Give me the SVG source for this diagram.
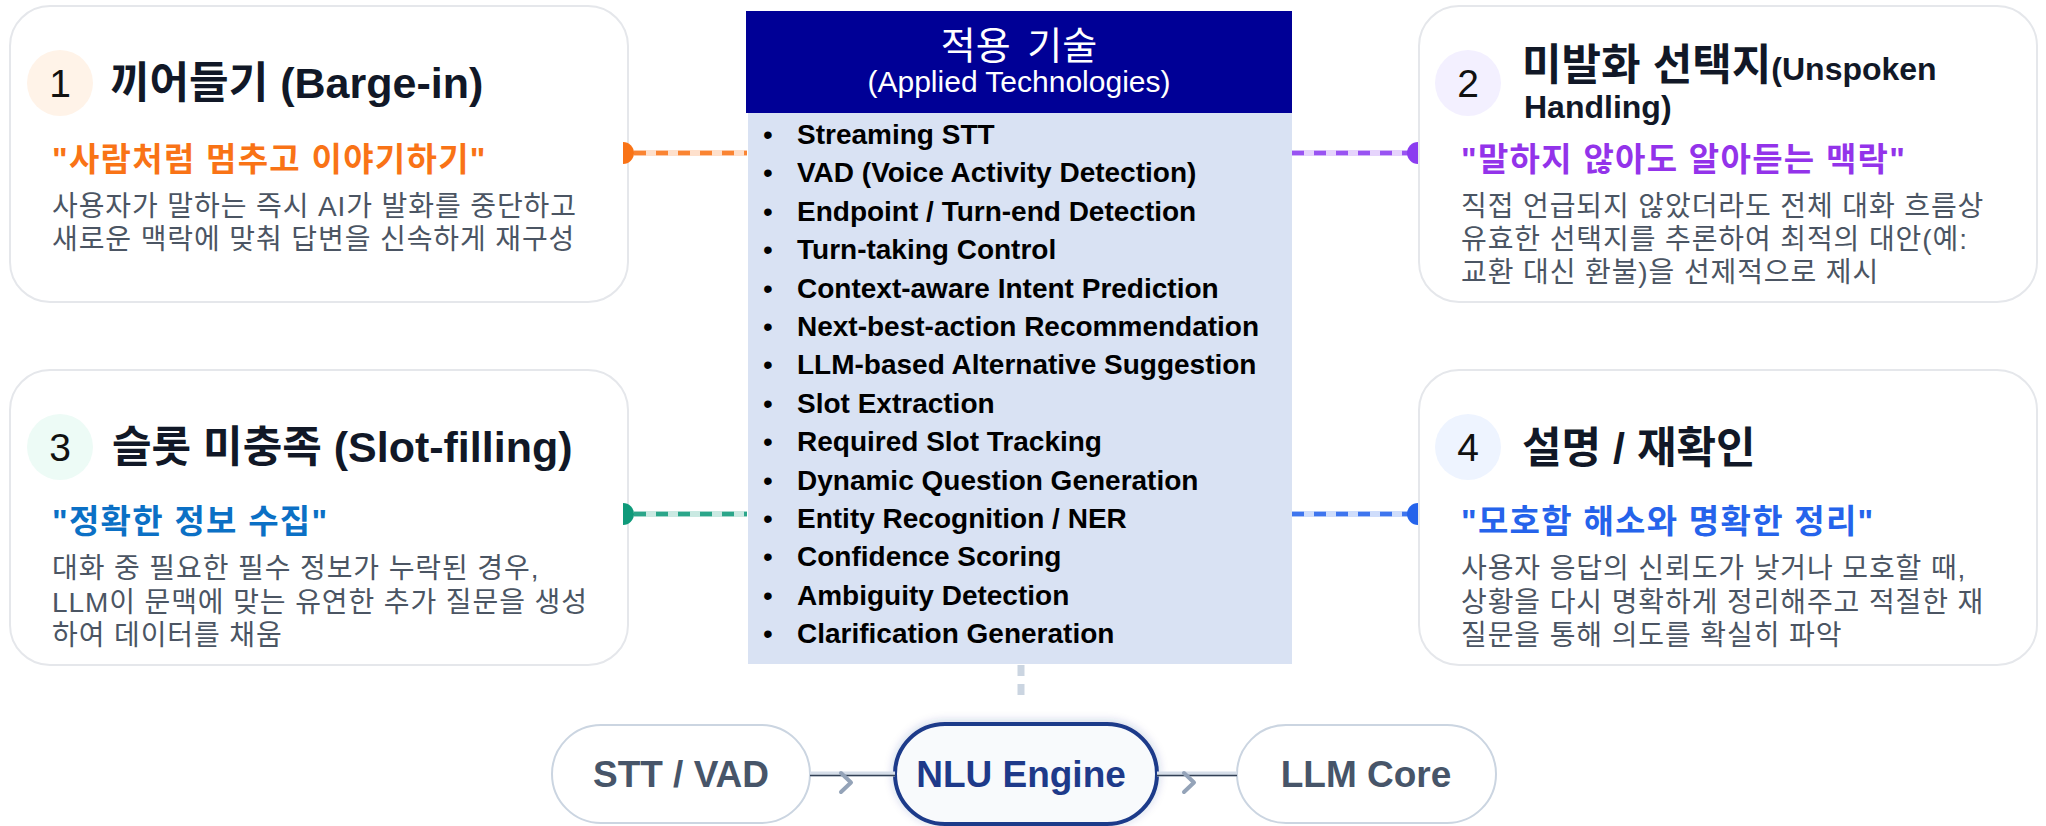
<svg xmlns="http://www.w3.org/2000/svg" width="2046" height="826" viewBox="0 0 2046 826">
<defs>
<style>
text{font-family:"Liberation Sans","Noto Sans CJK KR",sans-serif}
.card{fill:#ffffff;stroke:#E5E7EB;stroke-width:2}
.num{font-size:39px;fill:#111111;text-anchor:middle}
.title{font-size:43px;font-weight:700;fill:#111827}
.quote{font-size:33px;font-weight:700;letter-spacing:1.3px}
.desc{font-size:28px;fill:#4B5563;letter-spacing:0.9px}
.hdr{fill:#ffffff;text-anchor:middle}
.tech{font-size:28px;font-weight:700;fill:#000000}
.bul{font-size:28px;fill:#000000}
.pill{fill:#ffffff;stroke:#CBD5E1;stroke-width:2}
.ptext{font-size:37px;font-weight:700;fill:#475569;text-anchor:middle}
.base{stroke-width:6;opacity:0.22;fill:none}
.dash{stroke-width:4.5;stroke-dasharray:12 10;opacity:0.85;fill:none}
.band{stroke:#D6DEE9;stroke-width:5;fill:none}
.thin{stroke:#334155;stroke-width:1.4;fill:none}
.chev{stroke:#94A3B8;stroke-width:4;fill:none;stroke-linecap:round;stroke-linejoin:round}
</style>
<filter id="glow" x="-20%" y="-40%" width="140%" height="180%">
<feDropShadow dx="0" dy="-1" stdDeviation="5" flood-color="#1E3A8A" flood-opacity="0.22"/>
</filter>
</defs>

<g id="card1">
<rect class="card" x="10" y="6" width="618" height="296" rx="40"/>
<circle cx="60" cy="83" r="33" fill="#FFF3E8"/>
<text class="num" x="60" y="97">1</text>
<text class="title" x="110" y="98">끼어들기 (Barge-in)</text>
<text class="quote" x="52" y="171" fill="#F97316">"사람처럼 멈추고 이야기하기"</text>
<text class="desc" x="52" y="216">사용자가 말하는 즉시 AI가 발화를 중단하고</text>
<text class="desc" x="52" y="249">새로운 맥락에 맞춰 답변을 신속하게 재구성</text>
</g>

<g id="card2">
<rect class="card" x="1419" y="6" width="618" height="296" rx="40"/>
<circle cx="1468" cy="83" r="33" fill="#F3F0FF"/>
<text class="num" x="1468" y="97">2</text>
<text class="title" x="1522" y="80">미발화 선택지<tspan style="font-size:32px">(Unspoken</tspan></text>
<text class="title" x="1524" y="118" style="font-size:32px">Handling)</text>
<text class="quote" x="1461" y="171" fill="#9333EA">"말하지 않아도 알아듣는 맥락"</text>
<text class="desc" x="1461" y="216">직접 언급되지 않았더라도 전체 대화 흐름상</text>
<text class="desc" x="1461" y="249">유효한 선택지를 추론하여 최적의 대안(예:</text>
<text class="desc" x="1461" y="282">교환 대신 환불)을 선제적으로 제시</text>
</g>

<g id="card3">
<rect class="card" x="10" y="370" width="618" height="295" rx="40"/>
<circle cx="60" cy="447" r="33" fill="#EDFBF6"/>
<text class="num" x="60" y="461">3</text>
<text class="title" x="112" y="462">슬롯 미충족 (Slot-filling)</text>
<text class="quote" x="52" y="533" fill="#0B70C5">"정확한 정보 수집"</text>
<text class="desc" x="52" y="578">대화 중 필요한 필수 정보가 누락된 경우,</text>
<text class="desc" x="52" y="612">LLM이 문맥에 맞는 유연한 추가 질문을 생성</text>
<text class="desc" x="52" y="645">하여 데이터를 채움</text>
</g>

<g id="card4">
<rect class="card" x="1419" y="370" width="618" height="295" rx="40"/>
<circle cx="1468" cy="447" r="33" fill="#EEF4FF"/>
<text class="num" x="1468" y="461">4</text>
<text class="title" x="1522" y="463">설명 / 재확인</text>
<text class="quote" x="1461" y="533" fill="#2563EB">"모호함 해소와 명확한 정리"</text>
<text class="desc" x="1461" y="578">사용자 응답의 신뢰도가 낮거나 모호할 때,</text>
<text class="desc" x="1461" y="612">상황을 다시 명확하게 정리해주고 적절한 재</text>
<text class="desc" x="1461" y="645">질문을 통해 의도를 확실히 파악</text>
</g>

<g id="tech">
<rect x="748" y="113" width="544" height="551" fill="#D9E2F3"/>
<rect x="746" y="11" width="546" height="102" fill="#000096"/>
<text class="hdr" x="1019" y="59" font-size="38" word-spacing="6">적용 기술</text>
<text class="hdr" x="1019" y="92" font-size="30">(Applied Technologies)</text>
<g class="bul">
<text x="763" y="144">•</text><text x="763" y="182.4">•</text><text x="763" y="220.8">•</text><text x="763" y="259.2">•</text>
<text x="763" y="297.6">•</text><text x="763" y="336">•</text><text x="763" y="374.4">•</text><text x="763" y="412.8">•</text>
<text x="763" y="451.2">•</text><text x="763" y="489.6">•</text><text x="763" y="528">•</text><text x="763" y="566.4">•</text>
<text x="763" y="604.8">•</text><text x="763" y="643.2">•</text>
</g>
<text class="tech" x="797" y="144">Streaming STT</text>
<text class="tech" x="797" y="182.4">VAD (Voice Activity Detection)</text>
<text class="tech" x="797" y="220.8">Endpoint / Turn-end Detection</text>
<text class="tech" x="797" y="259.2">Turn-taking Control</text>
<text class="tech" x="797" y="297.6">Context-aware Intent Prediction</text>
<text class="tech" x="797" y="336">Next-best-action Recommendation</text>
<text class="tech" x="797" y="374.4">LLM-based Alternative Suggestion</text>
<text class="tech" x="797" y="412.8">Slot Extraction</text>
<text class="tech" x="797" y="451.2">Required Slot Tracking</text>
<text class="tech" x="797" y="489.6">Dynamic Question Generation</text>
<text class="tech" x="797" y="528">Entity Recognition / NER</text>
<text class="tech" x="797" y="566.4">Confidence Scoring</text>
<text class="tech" x="797" y="604.8">Ambiguity Detection</text>
<text class="tech" x="797" y="643.2">Clarification Generation</text>
</g>

<g id="stt">
<rect class="pill" x="552" y="725" width="258" height="98" rx="49"/>
<text class="ptext" x="681" y="787">STT / VAD</text>
</g>
<g id="nlu">
<rect x="895" y="724" width="262" height="100" rx="50" fill="#F8FAFC" stroke="#1E3A8A" stroke-width="4" filter="url(#glow)"/>
<text class="ptext" x="1021" y="787" style="fill:#1E3A8A">NLU Engine</text>
</g>
<g id="llm">
<rect class="pill" x="1237" y="725" width="259" height="98" rx="49"/>
<text class="ptext" x="1366" y="787">LLM Core</text>
</g>

<g id="connectors">
<line class="base" x1="634" y1="153" x2="747" y2="153" stroke="#F97316"/>
<line class="dash" x1="634" y1="153" x2="747" y2="153" stroke="#F97316"/>
<path d="M623,142 A11,11 0 0 1 623,164 Z" fill="#F97316"/>

<line class="base" x1="1292" y1="153" x2="1408" y2="153" stroke="#8B3CF0"/>
<line class="dash" x1="1292" y1="153" x2="1408" y2="153" stroke="#8B3CF0"/>
<path d="M1418,142 A11,11 0 0 0 1418,164 Z" fill="#8B3CF0"/>

<line class="base" x1="634" y1="514" x2="747" y2="514" stroke="#0F9A7A"/>
<line class="dash" x1="634" y1="514" x2="747" y2="514" stroke="#0F9A7A"/>
<path d="M623,503 A11,11 0 0 1 623,525 Z" fill="#0F9A7A"/>

<line class="base" x1="1292" y1="514" x2="1408" y2="514" stroke="#2563EB"/>
<line class="dash" x1="1292" y1="514" x2="1408" y2="514" stroke="#2563EB"/>
<path d="M1418,503 A11,11 0 0 0 1418,525 Z" fill="#2563EB"/>

<line x1="1021" y1="665" x2="1021" y2="699" stroke="#CBD5E1" stroke-width="7" stroke-dasharray="11 8"/>

<line class="band" x1="810" y1="774" x2="895" y2="774"/>
<line class="thin" x1="810" y1="775.5" x2="895" y2="775.5"/>
<path class="chev" d="M841,773 L851,782.5 L841,792"/>

<line class="band" x1="1157" y1="774" x2="1237" y2="774"/>
<line class="thin" x1="1157" y1="775.5" x2="1237" y2="775.5"/>
<path class="chev" d="M1184,773 L1194,782.5 L1184,792"/>
</g>
</svg>
